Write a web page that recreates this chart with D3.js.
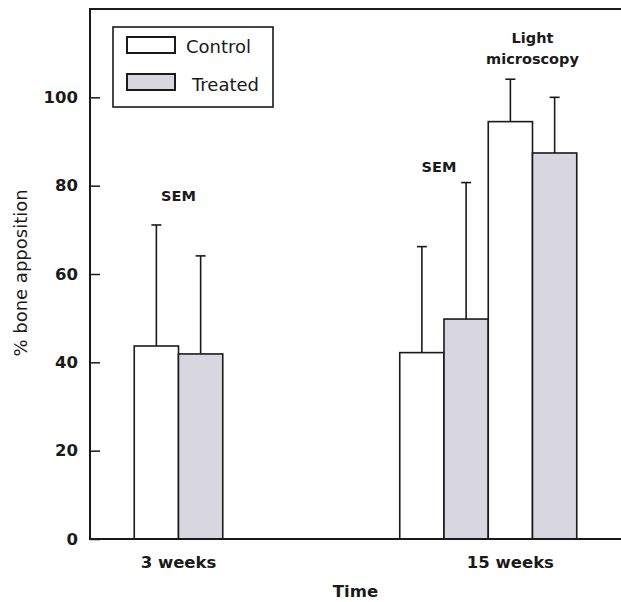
<!DOCTYPE html>
<html>
<head>
<meta charset="utf-8">
<script src="https://cdn.jsdelivr.net/npm/d3@7"></script>
<style>
  body { margin: 0; background: #fff; }
  svg { display: block; font-family: "DejaVu Sans", sans-serif; }
</style>
</head>
<body>
<div class="chart"></div>
<script>
/* data */
const sets = ["3 weeks SEM", "15 weeks SEM", "15 weeks Light microscopy"];
const series = ["Control", "Treated"];
const controlMean = [43.7, 42.2, 94.5];
const controlErr = [27.4, 24.0, 9.6];
const treatedMean = [41.9, 49.8, 87.4];
const treatedErr = [22.2, 30.9, 12.6];
const timeLabels = ["3 weeks", "15 weeks"];
const methodLabels = [["SEM"], ["SEM"], ["Light", "microscopy"]];
const methodLabelY = [76.5, 83, 107.5];
const yTicks = [0, 20, 40, 60, 80, 100];

/* layout */
const W = 621, H = 602;
const plotLeft = 90, plotTop = 9, plotBottom = 539;
const ink = "#1a1a1a";
const treatedFill = "#d8d7df";

const svg = d3.select(".chart").append("svg")
  .attr("width", W)
  .attr("height", H);

/* x in "bar slots", y in percent */
const x = d3.scaleLinear().domain([0, 12]).range([plotLeft, W]);
const y = d3.scaleLinear().domain([0, 120]).range([plotBottom, plotTop]);
const setStart = d3.scaleOrdinal().domain(sets).range([1, 7, 9]);
const timePos = d3.scaleOrdinal().domain(timeLabels).range([2, 9.5]);

/* flatten into bars */
const bars = [];
sets.forEach((s, i) => {
  bars.push({set: s, series: "Control", slot: setStart(s), mean: controlMean[i], err: controlErr[i]});
  bars.push({set: s, series: "Treated", slot: setStart(s) + 1, mean: treatedMean[i], err: treatedErr[i]});
});
const fill = d3.scaleOrdinal().domain(series).range(["#ffffff", treatedFill]);

/* error bars first so bar tops cover them */
const eb = svg.append("g").attr("class", "errorbars")
  .attr("stroke", ink).attr("stroke-width", 1.6);
eb.selectAll("line.v")
  .data(bars)
  .join("line")
  .attr("class", "v")
  .attr("x1", d => x(d.slot + 0.5))
  .attr("x2", d => x(d.slot + 0.5))
  .attr("y1", d => y(d.mean))
  .attr("y2", d => y(d.mean + d.err));
eb.selectAll("line.cap")
  .data(bars)
  .join("line")
  .attr("class", "cap")
  .attr("x1", d => x(d.slot + 0.5) - 5)
  .attr("x2", d => x(d.slot + 0.5) + 5)
  .attr("y1", d => y(d.mean + d.err))
  .attr("y2", d => y(d.mean + d.err));

/* bars */
svg.append("g").attr("class", "bars")
  .selectAll("rect")
  .data(bars)
  .join("rect")
  .attr("x", d => x(d.slot))
  .attr("y", d => y(d.mean))
  .attr("width", x(1) - x(0))
  .attr("height", d => y(0) - y(d.mean))
  .attr("fill", d => fill(d.series))
  .attr("stroke", ink)
  .attr("stroke-width", 1.6);

/* y axis with inward ticks */
const yAxis = d3.axisLeft(y).tickValues(yTicks).tickSizeInner(-10).tickSizeOuter(0).tickPadding(12);
const gy = svg.append("g")
  .attr("transform", `translate(${plotLeft},0)`)
  .call(yAxis);
gy.select(".domain").remove();
gy.selectAll(".tick line").attr("stroke", ink).attr("stroke-width", 1.5);
gy.selectAll(".tick text")
  .attr("fill", ink)
  .style("font-family", "DejaVu Sans")
  .style("font-size", "16.5px")
  .style("font-weight", "bold");

/* frame: left, top, bottom */
svg.append("path")
  .attr("d", `M${W},${plotTop}H${plotLeft}V${plotBottom}H${W}`)
  .attr("fill", "none")
  .attr("stroke", ink)
  .attr("stroke-width", 2);

/* x category labels */
svg.append("g").selectAll("text")
  .data(timeLabels)
  .join("text")
  .attr("x", d => x(timePos(d)))
  .attr("y", 568)
  .attr("text-anchor", "middle")
  .attr("fill", ink)
  .style("font-size", "16.5px")
  .style("font-weight", "bold")
  .text(d => d);

/* axis titles */
svg.append("text")
  .attr("x", x(6))
  .attr("y", 597)
  .attr("text-anchor", "middle")
  .attr("fill", ink)
  .style("font-size", "16.5px")
  .style("font-weight", "bold")
  .text("Time");

svg.append("text")
  .attr("transform", `translate(27,${273}) rotate(-90)`)
  .attr("text-anchor", "middle")
  .attr("fill", ink)
  .style("font-size", "18px")
  .text("% bone apposition");

/* method labels above bar pairs */
const ml = svg.append("g").selectAll("text")
  .data(sets)
  .join("text")
  .attr("x", (d, i) => x(setStart(d) + 1) - (i === 1 ? 5 : 0))
  .attr("y", (d, i) => y(methodLabelY[i]) - (methodLabels[i].length - 1) * 21)
  .attr("text-anchor", "middle")
  .attr("fill", ink)
  .style("font-size", "14.5px")
  .style("font-weight", "bold");
ml.selectAll("tspan")
  .data((d, i) => methodLabels[i])
  .join("tspan")
  .attr("x", function () { return this.parentNode.getAttribute("x"); })
  .attr("dy", (d, j) => j === 0 ? 0 : 21)
  .text(d => d);

/* legend */
const legend = svg.append("g").attr("class", "legend").attr("transform", "translate(113,27)");
legend.append("rect")
  .attr("width", 160).attr("height", 80)
  .attr("fill", "#fff").attr("stroke", ink).attr("stroke-width", 1.6);
legend.selectAll("rect.sw")
  .data(series)
  .join("rect")
  .attr("class", "sw")
  .attr("x", 14)
  .attr("y", (d, i) => 10 + i * 37)
  .attr("width", 48)
  .attr("height", 16)
  .attr("fill", d => fill(d))
  .attr("stroke", ink)
  .attr("stroke-width", 2);
legend.selectAll("text")
  .data(series)
  .join("text")
  .attr("x", (d, i) => 73 + i * 6)
  .attr("y", (d, i) => 26 + i * 38)
  .attr("fill", ink)
  .style("font-size", "18px")
  .text(d => d);
</script>
</body>
</html>
